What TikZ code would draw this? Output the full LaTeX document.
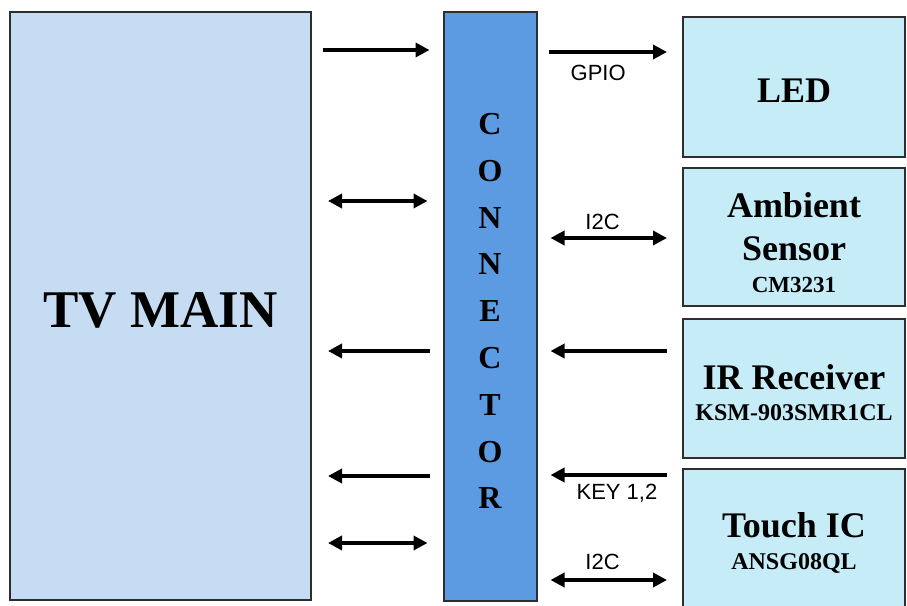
\documentclass[tikz,border=0pt]{standalone}
\usepackage{fontspec}
\setmainfont{Liberation Serif}
\setsansfont{Liberation Sans}
\usetikzlibrary{arrows.meta,positioning,calc}

\definecolor{mainfill}{HTML}{C6DCF3}
\definecolor{connfill}{HTML}{5C9AE2}
\definecolor{partfill}{HTML}{C5ECF7}
\definecolor{edge}{HTML}{2E2E2E}

\begin{document}
\begin{tikzpicture}[
  x=1pt, y=-1pt,
  box/.style={draw=edge, line width=2pt, rectangle, inner sep=0pt},
  mainbox/.style={box, fill=mainfill, minimum width=301pt, minimum height=588pt},
  connbox/.style={box, fill=connfill, minimum width=93pt, minimum height=589pt},
  partbox/.style={box, fill=partfill, minimum width=222pt},
  boxtext/.style={align=center, inner sep=0pt, font=\bfseries\fontsize{36}{43}\selectfont},
  arr/.style={line width=4pt, -{Triangle[length=14pt,width=14pt]}},
  darr/.style={line width=4pt, {Triangle[length=14pt,width=14pt]}-{Triangle[length=14pt,width=14pt]}},
  sig/.style={font=\sffamily\fontsize{22}{24}\selectfont, inner sep=0pt}
]
\useasboundingbox (0,0) rectangle (907,605);

\node[mainbox] (tv) at (160.5,306) {};
\node[connbox] (conn) at (490,306.5) {};
\node[partbox, minimum height=140pt] (led) at (794,87) {};
\node[partbox, minimum height=138pt] (amb) at (794,237) {};
\node[partbox, minimum height=139pt] (ir) at (794,388.5) {};
\node[partbox, minimum height=142pt] (touch) at (794,540) {};

\node[boxtext, font=\bfseries\fontsize{53}{60}\selectfont] (tvtxt) at ([yshift=-4pt]tv.center) {TV MAIN};
\node[boxtext, font=\bfseries\fontsize{32}{46.8}\selectfont] (letters) at ([yshift=-4.5pt]conn.center)
  {C\\O\\N\\N\\E\\C\\T\\O\\R};
\node[boxtext] (ledtxt) at ([yshift=-4pt]led.center) {LED};
\node[boxtext] (ambtxt) at ([yshift=-6pt]amb.center)
  {Ambient\\Sensor\\[-11pt]{\fontsize{23}{28}\selectfont CM3231}};
\node[boxtext] (irtxt) at ([yshift=-4pt]ir.center)
  {IR Receiver\\[-12pt]{\fontsize{24}{28}\selectfont KSM-903SMR1CL}};
\node[boxtext] (touchtxt) at ([yshift=-3pt]touch.center)
  {Touch IC\\[-11pt]{\fontsize{24}{28}\selectfont ANSG08QL}};

% TV MAIN <-> connector
\draw[arr, shorten <=11pt, shorten >=13pt] (tv.east |- 0,50) -- (conn.west |- 0,50);
\draw[darr, shorten <=16pt, shorten >=15pt] (tv.east |- 0,201) -- (conn.west |- 0,201);
\draw[arr, shorten <=13pt, shorten >=16pt] (conn.west |- 0,351) -- (tv.east |- 0,351);
\draw[arr, shorten <=13pt, shorten >=16pt] (conn.west |- 0,476) -- (tv.east |- 0,476);
\draw[darr, shorten <=16pt, shorten >=15pt] (tv.east |- 0,543) -- (conn.west |- 0,543);

% connector <-> parts
\draw[arr, shorten <=11pt, shorten >=15pt] (conn.east |- 0,52) -- (led.west |- 0,52)
  node[sig, pos=0.42, yshift=-21pt] (gpio) {GPIO};
\draw[darr, shorten <=13pt, shorten >=15pt] (conn.east |- 0,238) -- (amb.west |- 0,238)
  node[sig, pos=0.45, yshift=16pt] (iic1) {I2C};
\draw[arr, shorten <=15pt, shorten >=13pt] (ir.west |- 0,351) -- (conn.east |- 0,351);
\draw[arr, shorten <=15pt, shorten >=13pt] (touch.west |- 0,475) -- (conn.east |- 0,475)
  node[sig, pos=0.45, yshift=-18pt] (key) {KEY 1,2};
\draw[darr, shorten <=13pt, shorten >=15pt] (conn.east |- 0,580) -- (touch.west |- 0,580)
  node[sig, pos=0.45, yshift=18pt] (iic2) {I2C};
\end{tikzpicture}
\end{document}
